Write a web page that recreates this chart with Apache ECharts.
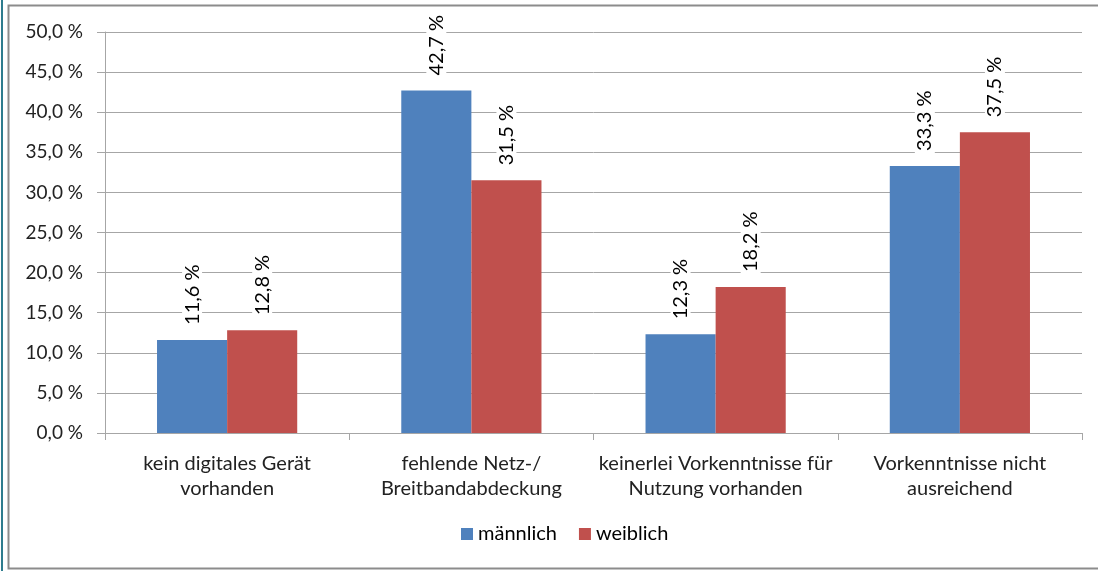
<!DOCTYPE html>
<html>
<head>
<meta charset="utf-8">
<script src="https://cdn.jsdelivr.net/npm/echarts@6/dist/echarts.min.js"></script>
<style>
html,body{margin:0;padding:0;background:#fff;}
#c{width:1098px;height:571px;}
</style>
</head>
<body>
<div id="c"></div>
<script>
const categories = ["kein digitales Gerät\nvorhanden", "fehlende Netz-/\nBreitbandabdeckung", "keinerlei Vorkenntnisse für\nNutzung vorhanden", "Vorkenntnisse nicht\nausreichend"];
const maennlich = [11.6, 42.7, 12.3, 33.3];
const weiblich = [12.8, 31.5, 18.2, 37.5];
const seriesNames = ["männlich", "weiblich"];

const fmt = v => v.toFixed(1).replace('.', ',') + ' %';
const font = "Lato, 'Noto Sans', sans-serif";

const chart = echarts.init(document.getElementById('c'), null, {renderer: 'canvas'});
const labelCfg = {
  show: true,
  position: 'top',
  rotate: 90,
  align: 'left',
  verticalAlign: 'middle',
  distance: 10,
  formatter: p => fmt(p.value),
  color: '#000',
  fontSize: 20,
  fontFamily: font,
  backgroundColor: '#fff',
  padding: [0, 5, 0, 5]
};
chart.setOption({
  animation: false,
  graphic: [
    {type: 'rect', shape: {x: 8.5, y: 5.5, width: 1100, height: 563}, style: {fill: 'none', stroke: '#8c8c8c', lineWidth: 2}, z: -1},
    {type: 'line', shape: {x1: 2, y1: 0, x2: 2, y2: 571}, style: {stroke: '#2e7c8e', lineWidth: 2}}
  ],
  grid: {left: 105, right: 16, top: 32, bottom: 138, containLabel: false},
  legend: {
    bottom: 22,
    left: 456,
    itemWidth: 12,
    itemHeight: 12,
    itemGap: 22,
    icon: 'rect',
    textStyle: {fontSize: 20, fontFamily: font, color: '#000'},
    data: seriesNames
  },
  xAxis: {
    type: 'category',
    data: categories,
    axisLine: {lineStyle: {color: '#a6a6a6', width: 1}},
    axisTick: {show: true, length: 7, lineStyle: {color: '#a6a6a6'}},
    axisLabel: {fontSize: 20, fontFamily: font, color: '#222', margin: 18, lineHeight: 25, interval: 0}
  },
  yAxis: {
    type: 'value',
    min: 0, max: 50, interval: 5,
    axisLine: {show: true, lineStyle: {color: '#a6a6a6'}},
    axisTick: {show: true, length: 8, lineStyle: {color: '#a6a6a6'}},
    splitLine: {lineStyle: {color: '#a6a6a6'}},
    axisLabel: {formatter: v => fmt(v), fontSize: 19, fontFamily: font, color: '#222', margin: 22}
  },
  series: [
    {name: seriesNames[0], type: 'bar', data: maennlich, barGap: '0%', barCategoryGap: '42.6%', itemStyle: {color: '#4f81bd'}, label: labelCfg},
    {name: seriesNames[1], type: 'bar', data: weiblich, itemStyle: {color: '#c0504d'}, label: labelCfg}
  ]
});
</script>
</body>
</html>
